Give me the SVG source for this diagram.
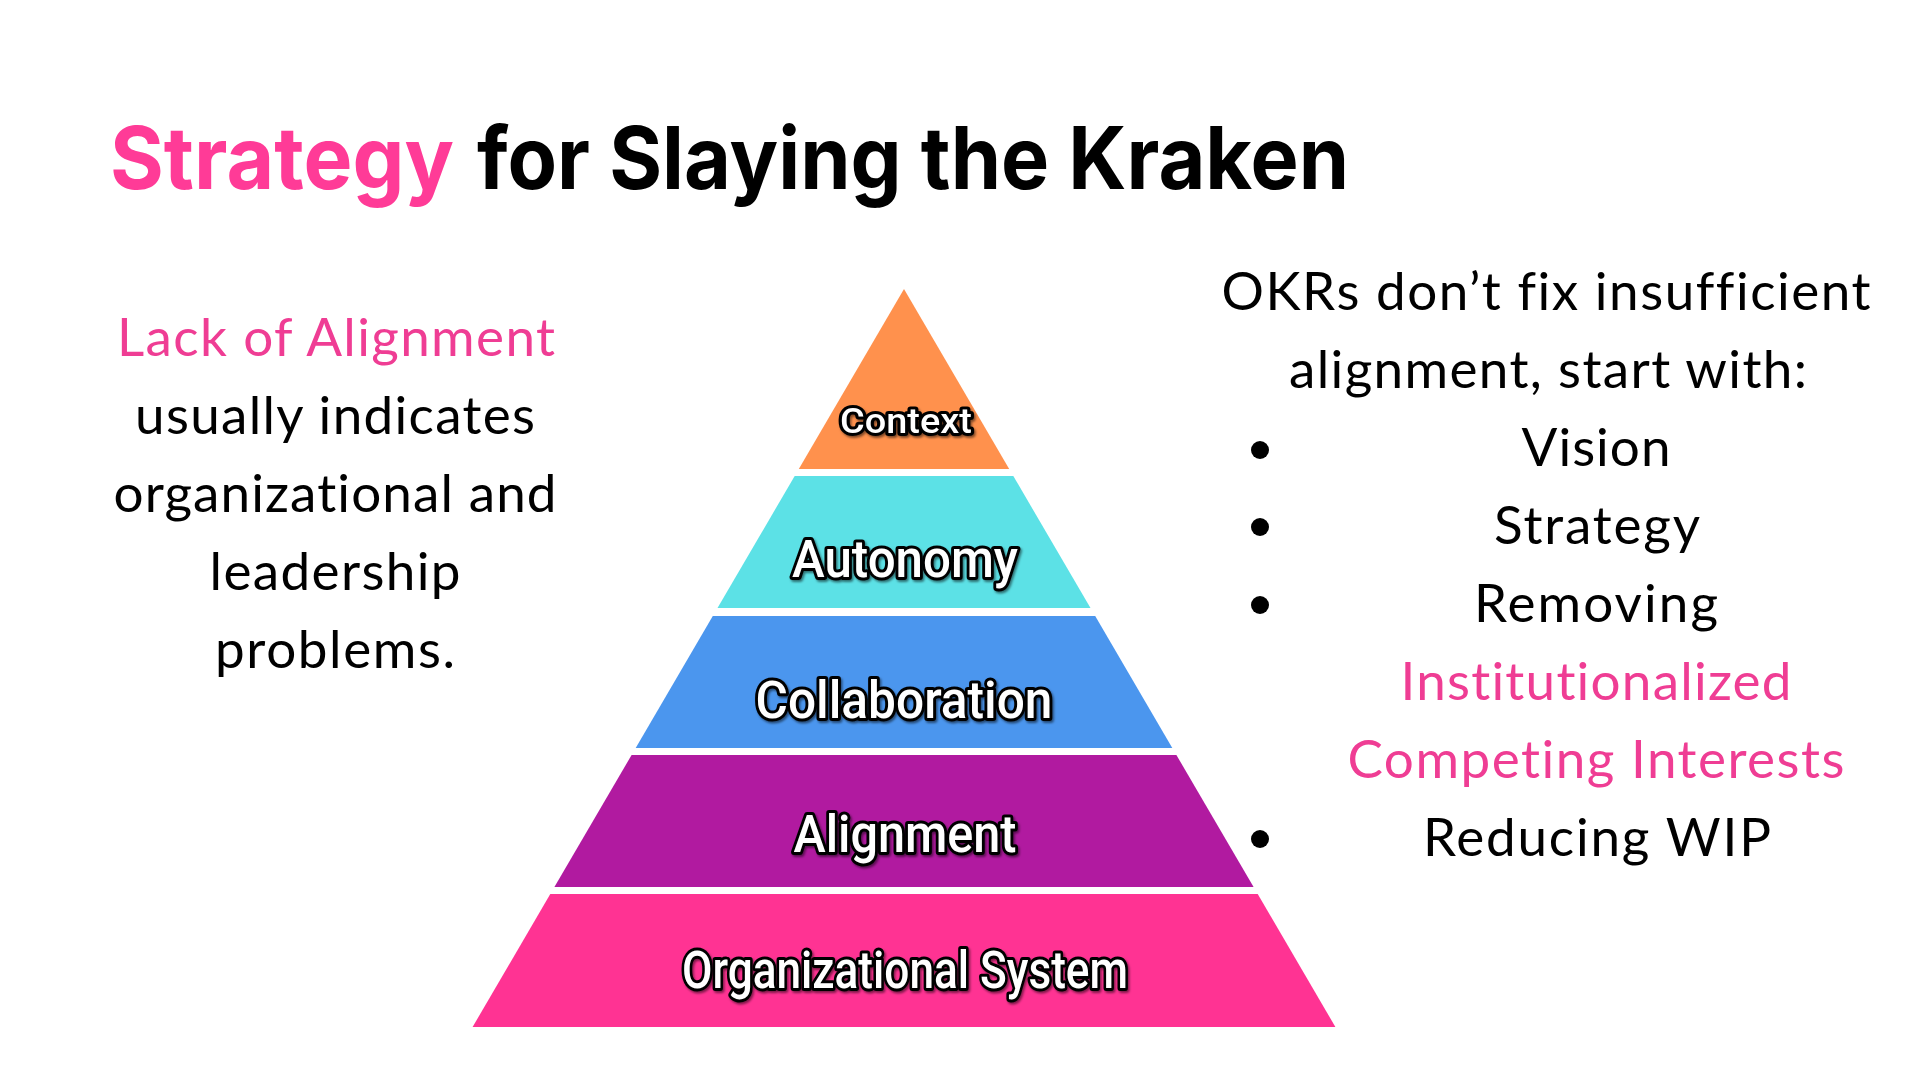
<svg xmlns="http://www.w3.org/2000/svg" width="1920" height="1080" viewBox="0 0 1920 1080">
  <style>
    .title { font-family: Inter, "Lato", "DejaVu Sans", sans-serif; font-weight: 700; font-size: 87px; }
    .body { font-family: Lato, "Open Sans", "DejaVu Sans", sans-serif; font-size: 53px; fill: #000000; text-anchor: middle; font-variant-ligatures: none; }
    .pink { fill: #EF3D94; }
    .label { font-family: Roboto, "Open Sans", "DejaVu Sans", sans-serif; font-weight: 500; fill: #ffffff; stroke: #000000; stroke-width: 6; stroke-linejoin: round; paint-order: stroke; text-anchor: middle; }
  </style>
  <defs>
    <filter id="sh" x="-10%" y="-20%" width="120%" height="150%">
      <feDropShadow dx="1.5" dy="2" stdDeviation="1" flood-color="#000000" flood-opacity="0.5"/>
    </filter>
  </defs>
  <rect width="1920" height="1080" fill="#ffffff"/>

  <g id="title">
    <text class="title" x="110" y="189" fill="#FF3B97" textLength="344" lengthAdjust="spacingAndGlyphs">Strategy</text>
    <text class="title" x="477" y="189" fill="#000000" textLength="872" lengthAdjust="spacingAndGlyphs">for Slaying the Kraken</text>
  </g>

  <g id="left-text">
    <text class="body pink" x="336" y="356" textLength="438">Lack of Alignment</text>
    <text class="body" x="335" y="434" textLength="400">usually indicates</text>
    <text class="body" x="335" y="512" textLength="443">organizational and</text>
    <text class="body" x="335" y="590" textLength="251">leadership</text>
    <text class="body" x="335" y="668" textLength="240">problems.</text>
  </g>

  <g id="pyramid">
    <g id="layer-context">
      <polygon points="904,289 1009.2,469 798.8,469" fill="#FF914D"/>
      <text class="label" x="906" y="433" font-size="35" textLength="132" lengthAdjust="spacingAndGlyphs" filter="url(#sh)">Context</text>
    </g>
    <g id="layer-autonomy">
      <polygon points="794.7,476 1013.3,476 1090.5,608 717.5,608" fill="#5CE1E6"/>
      <text class="label" x="905" y="577" font-size="51" textLength="226" lengthAdjust="spacingAndGlyphs" filter="url(#sh)">Autonomy</text>
    </g>
    <g id="layer-collaboration">
      <polygon points="712.8,616 1095.2,616 1172.3,748 635.7,748" fill="#4B96EE"/>
      <text class="label" x="904" y="718" font-size="51" textLength="297" lengthAdjust="spacingAndGlyphs" filter="url(#sh)">Collaboration</text>
    </g>
    <g id="layer-alignment">
      <polygon points="631.6,755 1176.4,755 1253.6,887 554.4,887" fill="#B11AA0"/>
      <text class="label" x="905" y="852" font-size="51" textLength="223" lengthAdjust="spacingAndGlyphs" filter="url(#sh)">Alignment</text>
    </g>
    <g id="layer-org">
      <polygon points="550.3,894 1257.7,894 1335.4,1027 472.6,1027" fill="#FF3393"/>
      <text class="label" x="905" y="988" font-size="51" textLength="446" lengthAdjust="spacingAndGlyphs" filter="url(#sh)">Organizational System</text>
    </g>
  </g>

  <g id="right-text">
    <text class="body" x="1546" y="310" textLength="649">OKRs don’t fix insufficient</text>
    <text class="body" x="1548" y="388" textLength="518">alignment, start with:</text>
    <circle cx="1260" cy="450" r="9" fill="#000000"/>
    <text class="body" x="1596" y="466" textLength="149">Vision</text>
    <circle cx="1260" cy="527" r="9" fill="#000000"/>
    <text class="body" x="1597" y="544" textLength="206">Strategy</text>
    <circle cx="1260" cy="605" r="9" fill="#000000"/>
    <text class="body" x="1596" y="622" textLength="244">Removing</text>
    <text class="body pink" x="1596" y="700" textLength="391">Institutionalized</text>
    <text class="body pink" x="1596" y="778" textLength="497">Competing Interests</text>
    <circle cx="1260" cy="839" r="9" fill="#000000"/>
    <text class="body" x="1597" y="856" textLength="348">Reducing WIP</text>
  </g>

  <g id="connectors"/>
</svg>
